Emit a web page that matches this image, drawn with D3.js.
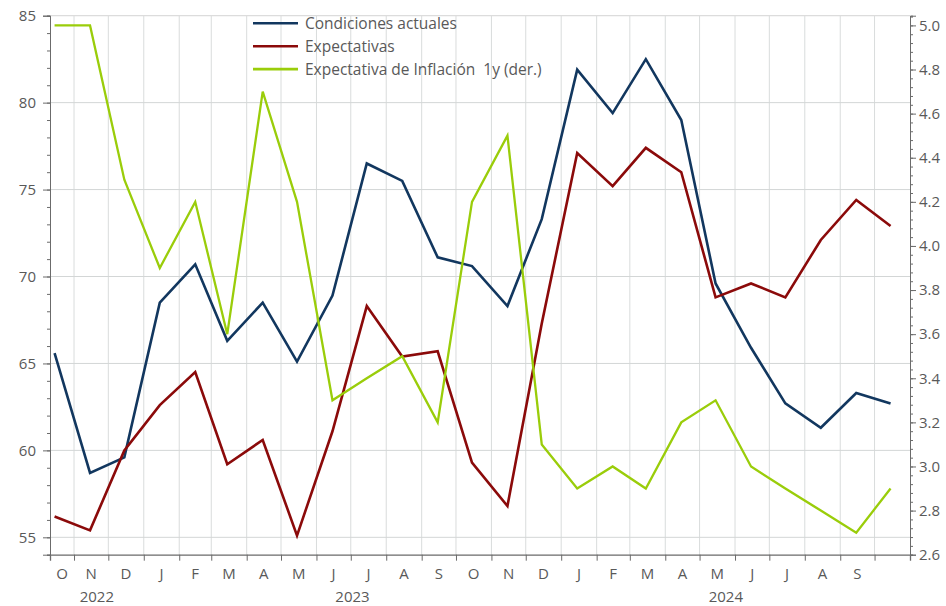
<!DOCTYPE html>
<html>
<head>
<meta charset="utf-8">
<script src="https://cdn.jsdelivr.net/npm/d3@7"></script>
<style>
  body { margin: 0; background: #fff; }
  svg text { font-family: "Open Sans", "Noto Sans", sans-serif; fill: #595959; }
</style>
</head>
<body>
<svg id="chart" width="946" height="606"></svg>
<script>
// monthly observations (mid-month)
var months = ["2022-10","2022-11","2022-12","2023-01","2023-02","2023-03","2023-04","2023-05",
  "2023-06","2023-07","2023-08","2023-09","2023-10","2023-11","2023-12","2024-01","2024-02",
  "2024-03","2024-04","2024-05","2024-06","2024-07","2024-08","2024-09","2024-10"];

var condicionesActuales = [65.6, 58.7, 59.6, 68.5, 70.7, 66.3, 68.5, 65.1, 68.9, 76.5, 75.5, 71.1,
  70.6, 68.3, 73.3, 81.9, 79.4, 82.5, 79.0, 69.6, 65.9, 62.7, 61.3, 63.3, 62.7];
var expectativas = [56.2, 55.4, 60.0, 62.6, 64.5, 59.2, 60.6, 55.1, 61.1, 68.3, 65.4, 65.7,
  59.3, 56.8, 67.3, 77.1, 75.2, 77.4, 76.0, 68.8, 69.6, 68.8, 72.1, 74.4, 72.9];
var inflacion1y = [5.0, 5.0, 4.3, 3.9, 4.2, 3.6, 4.7, 4.2, 3.3, 3.4, 3.5, 3.2,
  4.2, 4.5, 3.1, 2.9, 3.0, 2.9, 3.2, 3.3, 3.0, 2.9, 2.8, 2.7, 2.9];

var leftTicks = [55, 60, 65, 70, 75, 80, 85];
var rightTicks = [2.6, 2.8, 3.0, 3.2, 3.4, 3.6, 3.8, 4.0, 4.2, 4.4, 4.6, 4.8, 5.0];
var monthInitials = ["J","F","M","A","M","J","J","A","S","O","N","D"];
var years = [2022, 2023, 2024];

var seriesNames = ["Condiciones actuales", "Expectativas", "Expectativa de Inflación  1y (der.)"];
var seriesColors = ["#12375f", "#8b0a0a", "#9acd0a"];

var svg = d3.select("#chart");
var plotLeft = 50, plotRight = 910, plotTop = 15.7, plotBottom = 554.7;

var parse = d3.timeParse("%Y-%m");
var dates = months.map(function(m) { return d3.timeDay.offset(parse(m), 14); });
var startDate = new Date(2022, 9, 11), endDate = new Date(2024, 10, 1);

var x = d3.scaleTime().domain([startDate, endDate]).range([plotLeft, plotRight]);
var yL = d3.scaleLinear().domain([54, 85]).range([plotBottom, plotTop]);
var yR = d3.scaleLinear().domain([2.6, 5.044]).range([plotBottom, plotTop]);

var monthStarts = d3.timeMonth.range(new Date(2022, 10, 1), endDate);

// grid
svg.append("g").selectAll("line").data(monthStarts).join("line")
  .attr("x1", function(d) { return x(d); }).attr("x2", function(d) { return x(d); })
  .attr("y1", plotTop).attr("y2", plotBottom)
  .attr("stroke", "#d9dcdc").attr("stroke-width", 1);
svg.append("g").selectAll("line").data(leftTicks.slice(0, -1)).join("line")
  .attr("x1", plotLeft).attr("x2", plotRight)
  .attr("y1", function(d) { return yL(d); }).attr("y2", function(d) { return yL(d); })
  .attr("stroke", "#d3d6d6").attr("stroke-width", 1);
svg.append("line").attr("x1", plotLeft).attr("x2", plotRight).attr("y1", plotTop).attr("y2", plotTop)
  .attr("stroke", "#dcdcdc").attr("stroke-width", 1.2);

// left axis
var gl = svg.append("g").attr("transform", "translate(" + plotLeft + ",0)");
gl.call(d3.axisLeft(yL).tickValues(d3.range(54, 86, 1)).tickSize(3).tickFormat(""));
gl.append("g").call(d3.axisLeft(yL).tickValues(leftTicks).tickSize(7).tickPadding(7));
gl.selectAll("path.domain").attr("stroke", "#6b6b6b");
gl.selectAll("line").attr("stroke", "#6b6b6b");
gl.selectAll("text").attr("font-size", "15px").attr("fill", "#595959")
  .style("font-family", "'Open Sans', sans-serif");

// right axis
var gr = svg.append("g").attr("transform", "translate(" + plotRight + ",0)");
gr.call(d3.axisRight(yR).tickValues(d3.range(0, 62).map(function(i) { return 2.6 + i * 0.04; }))
  .tickSize(3).tickFormat(""));
gr.append("g").call(d3.axisRight(yR).tickValues(rightTicks).tickSize(6).tickPadding(3)
  .tickFormat(d3.format(".1f")));
gr.selectAll("path.domain").attr("stroke", "#6b6b6b");
gr.selectAll("line").attr("stroke", "#6b6b6b");
gr.selectAll("text").attr("font-size", "15px").attr("fill", "#595959")
  .style("font-family", "'Open Sans', sans-serif");

// bottom axis
var gb = svg.append("g").attr("transform", "translate(0," + plotBottom + ")");
gb.call(d3.axisBottom(x).tickValues(monthStarts).tickSize(6).tickFormat(""));
gb.selectAll("path.domain").attr("stroke", "#6b6b6b").attr("stroke-width", 1.3);
gb.selectAll("line").attr("stroke", "#6b6b6b");

var labelMonths = d3.timeMonth.range(new Date(2022, 9, 1), new Date(2024, 9, 1));
svg.append("g").selectAll("text").data(labelMonths).join("text")
  .attr("x", function(d) {
    var a = d < startDate ? startDate : d;
    return (x(a) + x(d3.timeMonth.offset(d, 1))) / 2;
  })
  .attr("y", 579)
  .attr("text-anchor", "middle")
  .attr("font-size", "15px")
  .text(function(d) { return monthInitials[d.getMonth()]; });

var lastDate = dates[dates.length - 1];
svg.append("g").selectAll("text").data(years).join("text")
  .attr("x", function(yr) {
    var a = new Date(yr, 0, 1), b = new Date(yr + 1, 0, 1);
    if (a < startDate) a = startDate;
    if (b > lastDate) b = lastDate;
    return (x(a) + x(b)) / 2;
  })
  .attr("y", 602)
  .attr("text-anchor", "middle")
  .attr("font-size", "15px")
  .text(function(d) { return d; });

// lines
var lineL = d3.line().x(function(d, i) { return x(dates[i]); }).y(function(d) { return yL(d); });
var lineR = d3.line().x(function(d, i) { return x(dates[i]); }).y(function(d) { return yR(d); });

svg.append("path").datum(condicionesActuales).attr("d", lineL)
  .attr("fill", "none").attr("stroke", seriesColors[0]).attr("stroke-width", 2.6);
svg.append("path").datum(expectativas).attr("d", lineL)
  .attr("fill", "none").attr("stroke", seriesColors[1]).attr("stroke-width", 2.6);
svg.append("path").datum(inflacion1y).attr("d", lineR)
  .attr("fill", "none").attr("stroke", seriesColors[2]).attr("stroke-width", 2.3);

// legend
var legend = svg.append("g").selectAll("g").data(seriesNames).join("g")
  .attr("transform", function(d, i) { return "translate(253," + (23.3 + i * 22.9) + ")"; });
legend.append("line").attr("x1", 0).attr("x2", 45)
  .attr("stroke", function(d, i) { return seriesColors[i]; }).attr("stroke-width", 2.6);
legend.append("text").attr("x", 52).attr("y", 5.5)
  .attr("font-size", "15.5px").attr("fill", "#404040")
  .attr("xml:space", "preserve")
  .text(function(d) { return d; });
</script>
</body>
</html>
